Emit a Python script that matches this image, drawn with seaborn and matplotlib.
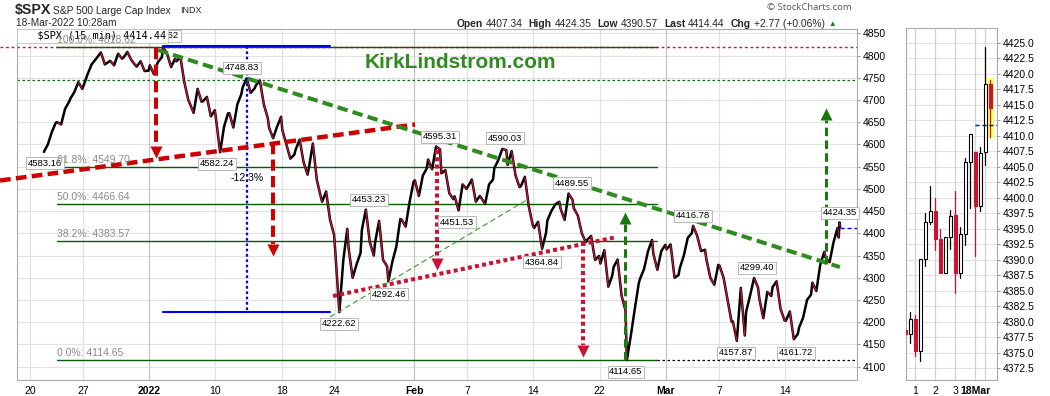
import numpy as np
import pandas as pd
import matplotlib
matplotlib.use("Agg")
import matplotlib.pyplot as plt
import seaborn as sns
from matplotlib.collections import LineCollection
from matplotlib.patches import Rectangle

sns.set_theme(style="white")
plt.rcParams['font.family'] = ['Liberation Sans', 'DejaVu Sans']

# ---------------- data ----------------
# 15-min S&P 500 path: 4 readings per session (Dec 21 .. Mar 17)
sessions = ["Dec 21", "Dec 22", "Dec 23", "Dec 27", "Dec 28", "Dec 29", "Dec 30", "Dec 31",
            "Jan 3", "Jan 4", "Jan 5", "Jan 6", "Jan 7", "Jan 10", "Jan 11", "Jan 12", "Jan 13",
            "Jan 14", "Jan 18", "Jan 19", "Jan 20", "Jan 21", "Jan 24", "Jan 25", "Jan 26",
            "Jan 27", "Jan 28", "Jan 31", "Feb 1", "Feb 2", "Feb 3", "Feb 4", "Feb 7", "Feb 8",
            "Feb 9", "Feb 10", "Feb 11", "Feb 14", "Feb 15", "Feb 16", "Feb 17", "Feb 18",
            "Feb 22", "Feb 23", "Feb 24", "Feb 25", "Feb 28", "Mar 1", "Mar 2", "Mar 3", "Mar 4",
            "Mar 7", "Mar 8", "Mar 9", "Mar 10", "Mar 11", "Mar 14", "Mar 15", "Mar 16", "Mar 17"]
session_prices = [
    [4583.16, 4600, 4628, 4649], [4650, 4645, 4680, 4696], [4703, 4718, 4740, 4725],
    [4733, 4758, 4780, 4791], [4795, 4807, 4780, 4786], [4788, 4778, 4804, 4793],
    [4795, 4808, 4790, 4778], [4775, 4787, 4765, 4766], [4778, 4758, 4785, 4796],
    [4818.62, 4804, 4774, 4793], [4787, 4797, 4740, 4700], [4693, 4671, 4725, 4696],
    [4697, 4707, 4663, 4677], [4655, 4582.24, 4640, 4670], [4670, 4638, 4690, 4713],
    [4728, 4748.83, 4716, 4726], [4733, 4744, 4690, 4659], [4637, 4614, 4640, 4662],
    [4632, 4600, 4568, 4577], [4588, 4611, 4560, 4532], [4547, 4602, 4520, 4482],
    [4471, 4494, 4430, 4397], [4356, 4222.62, 4340, 4410], [4366, 4300, 4330, 4356],
    [4408, 4453.23, 4380, 4350], [4380, 4428, 4340, 4326], [4292.46, 4336, 4370, 4432],
    [4431, 4415, 4470, 4516], [4519, 4484, 4530, 4546], [4566, 4544, 4595.31, 4589],
    [4535, 4542, 4490, 4477], [4483, 4451.53, 4510, 4500], [4505, 4521, 4471, 4484],
    [4480, 4466, 4510, 4521], [4547, 4565, 4590.03, 4587], [4554, 4585, 4530, 4504],
    [4506, 4527, 4460, 4418], [4412, 4426, 4364.84, 4401], [4429, 4450, 4465, 4471],
    [4455, 4430, 4489.55, 4475], [4456, 4440, 4400, 4380], [4385, 4394, 4340, 4349],
    [4332, 4362, 4280, 4305], [4324, 4341, 4260, 4226], [4114.65, 4170, 4230, 4288],
    [4298, 4320, 4360, 4385], [4354, 4318, 4360, 4374], [4364, 4375, 4300, 4306],
    [4322, 4350, 4390, 4400], [4416.78, 4395, 4360, 4363], [4342, 4300, 4284, 4329],
    [4327, 4300, 4250, 4201], [4202, 4157.87, 4277, 4170], [4223, 4260, 4299.40, 4278],
    [4253, 4209, 4268, 4259], [4279, 4292, 4230, 4204], [4203, 4224, 4161.72, 4173],
    [4188, 4210, 4250, 4262], [4289, 4270, 4330, 4358], [4345, 4335, 4380, 4412],
]
last_session = [4407.34, 4390.57, 4424.35, 4414.44]   # Mar 18 up to 10:28am
prev_close = 4411.67

week_ticks = [0, 4, 9, 14, 19, 23, 29, 33, 38, 43, 48, 52, 57]
week_labels = ["20", "27", "2022", "10", "18", "24", "Feb", "7", "14", "22", "Mar", "7", "14"]
month_labels = ["2022", "Feb", "Mar"]

fib_pcts = ["100.0%", "61.8%", "50.0%", "38.2%", "0.0%"]
fib_values = [4818.62, 4549.70, 4466.64, 4383.57, 4114.65]

swing_labels = ["4583.16", "4818.62", "4748.83", "4582.24", "4595.31", "4590.03", "4489.55",
                "4453.23", "4451.53", "4364.84", "4292.46", "4222.62", "4114.65", "4416.78",
                "4299.40", "4157.87", "4161.72", "4424.35"]

# right panel: last 18 fifteen-minute candles
c_open = [4378.6, 4378.0, 4380.5, 4375.2, 4390.1, 4396.0, 4397.8, 4393.3, 4387.8,
          4393.6, 4397.2, 4387.8, 4394.1, 4405.8, 4407.3, 4398.7, 4407.3, 4418.3]
c_high = [4378.7, 4381.5, 4381.1, 4390.1, 4397.5, 4401.8, 4399.9, 4394.9, 4393.7,
          4398.0, 4401.0, 4395.3, 4406.4, 4410.2, 4407.3, 4408.1, 4424.35, 4419.0]
c_low = [4378.0, 4376.6, 4374.4, 4373.6, 4388.9, 4395.7, 4391.6, 4387.8, 4387.8,
         4391.7, 4384.6, 4387.0, 4392.4, 4398.4, 4390.57, 4397.9, 4405.2, 4409.7]
c_close = [4378.0, 4380.5, 4375.2, 4390.1, 4396.0, 4397.9, 4393.3, 4387.8, 4393.7,
           4397.1, 4387.8, 4394.1, 4405.8, 4410.2, 4398.7, 4407.2, 4418.3, 4414.44]
small_ticks = [2, 6, 10, 14]
small_labels = ["1", "2", "3", "18Mar"]

# ---------------- figure ----------------
W, H = 1050, 396
fig = plt.figure(figsize=(W / 100, H / 100), dpi=100)
fig.patch.set_facecolor('white')

def fx(x):
    return x / W

def fy(y):
    return 1 - y / H

ax = fig.add_axes([fx(17), fy(380), fx(857) - fx(17), fy(29) - fy(380)])
axs = fig.add_axes([fx(905.7), fy(380), fx(996.7) - fx(905.7), fy(28.3) - fy(380)])

XL = (-0.98, 62.42)
YL = (4069.9, 4859.7)
ax.set_xlim(*XL)
ax.set_ylim(*YL)
PPU = 351 / (YL[1] - YL[0])  # pixels per index point

RED = '#cc0000'
CRIMSON = '#cc1133'
GREEN = '#2e8b1e'
DKGREEN = '#0b6a0b'
BLUE = '#0000ee'

# grid
for v in np.arange(4100, 4851, 50):
    ax.axhline(v, color='#e2e2e2', lw=0.8, zorder=0)
for t, lab in zip(week_ticks, week_labels):
    ax.axvline(t, color='#c4c4c4' if lab in month_labels else '#e2e2e2', lw=0.9, zorder=0)

# price path
fracs = [0.05, 0.35, 0.65, 0.95]
last_fracs = [0.01, 0.04, 0.10, 0.15]
xs, ps = [], []
for i, vals in enumerate(session_prices):
    for f, v in zip(fracs, vals):
        xs.append(i + 1 + f)
        ps.append(v)
for f, v in zip(last_fracs, last_session):
    xs.append(len(session_prices) + 1 + f)
    ps.append(v)
df = pd.DataFrame({"x": xs, "price": ps})
sns.lineplot(data=df, x="x", y="price", ax=ax, color='black', linewidth=1.8,
             estimator=None, sort=False, zorder=3)
xa, pa = np.array(xs), np.array(ps)
segs = [[(xa[i], pa[i]), (xa[i + 1], pa[i + 1])] for i in range(len(xa) - 1) if pa[i + 1] < pa[i]]
ax.add_collection(LineCollection(segs, colors=CRIMSON, linewidths=0.9, zorder=4))

# fibonacci levels
fib_x0, fib_x1 = 2.04, 47.3
for pct, val in zip(fib_pcts, fib_values):
    ax.plot([fib_x0, fib_x1], [val, val], color='#0a5a0a', lw=1.0, zorder=2)
    ax.annotate(f"{pct}: {val:.2f}", (fib_x0, val), xytext=(0, 1.5), textcoords='offset points',
                ha='left', va='bottom', fontsize=7.5, color='#8a8a8a', zorder=9)
ax.plot([XL[0] - 1.3, XL[1]], [fib_values[0], fib_values[0]], color=CRIMSON, lw=1.0,
        ls=(0, (2, 2)), zorder=1, clip_on=False)
ax.plot([fib_x1, XL[1]], [fib_values[-1], fib_values[-1]], color='black', lw=0.9, ls=(0, (2, 2)), zorder=1)
ax.plot([XL[0], XL[1]], [4745, 4745], color=DKGREEN, lw=0.9, ls=(0, (2, 2)), zorder=1)

# blue measuring lines
ax.plot([10.04, 22.64], [4821, 4821], color=BLUE, lw=1.5, zorder=5)
ax.plot([10.04, 22.64], [4222.62, 4222.62], color=BLUE, lw=1.5, zorder=5)
ax.plot([16.35, 16.35], [4821, 4222.62], color=BLUE, lw=1.6, ls=(0, (1.2, 1.2)), zorder=5)
ax.text(16.35, 4524, "-12.3%", ha='center', va='center', fontsize=7.5, color='black', zorder=9)

# trend lines
ax.plot([-2.26, 29.06], [4518.8, 4644.8], color=RED, lw=3.2, ls=(0, (2.4, 1.2)), zorder=5, clip_on=False)
ax.plot([22.87, 44.3], [4259, 4391.7], color=CRIMSON, lw=2.9, ls=(0, (1, 0.8)), zorder=5)
ax.plot([9.66, 61.13], [4812.4, 4324], color=GREEN, lw=2.9, ls=(0, (2.6, 1.3)), zorder=5)
ax.plot([22.64, 37.5], [4211.7, 4475], color='#3a9a2a', lw=0.8, ls=(0, (5, 3)), zorder=5)
ax.plot([61.15, XL[1]], [prev_close, prev_close], color=BLUE, lw=1.0, ls=(0, (3, 2)), zorder=5)


def varrow(x, y0, y1, color, ls, lw, head_px=12):
    up = y1 > y0
    h = head_px / PPU
    ybase = y1 - h if up else y1 + h
    ax.plot([x, x], [y0, ybase], color=color, ls=ls, lw=lw, zorder=6)
    if up:
        verts = [(0, 0), (-0.5, -1), (0.5, -1), (0, 0)]
    else:
        verts = [(0, 0), (-0.5, 1), (0.5, 1), (0, 0)]
    ax.plot([x], [y1], marker=verts, ms=head_px * 0.72 * 2, color=color, mew=0, zorder=6)


varrow(9.51, 4817, 4569, RED, (0, (2.8, 1.3)), 2.9)
varrow(18.34, 4603, 4349, RED, (0, (2.8, 1.3)), 2.9)
varrow(30.72, 4587, 4318, CRIMSON, (0, (1, 0.8)), 2.9)
varrow(41.74, 4380, 4121, CRIMSON, (0, (1, 0.8)), 2.9)
varrow(44.9, 4114.65, 4449, '#1a7a10', (0, (2.8, 1.4)), 2.2)
varrow(60.05, 4330, 4681, '#1a7a10', (0, (2.8, 1.4)), 2.2)

# swing value labels (box centres)
label_pos = [(1.13, 4558), (9.95, 4844), (16.0, 4772), (14.11, 4556), (30.94, 4617),
             (35.85, 4614), (40.9, 4513), (25.58, 4475), (32.23, 4425), (38.64, 4335),
             (27.09, 4263), (23.32, 4196), (44.98, 4088), (50.04, 4439), (54.87, 4322),
             (53.28, 4131), (57.81, 4131), (61.13, 4446)]
for txt, (lx, ly) in zip(swing_labels, label_pos):
    ax.text(lx, ly, txt, ha='center', va='center', fontsize=6.8, color='black', zorder=8,
            bbox=dict(boxstyle='square,pad=0.18', fc='white', ec='#b8b8b8', lw=0.7))

# legend box inside chart
ax.text(fx(19), fy(36), "   $SPX (15 min) 4414.44", transform=fig.transFigure, ha='left', va='center',
        fontsize=7.4, family='DejaVu Sans Mono', color='black', zorder=8.5,
        bbox=dict(boxstyle='square,pad=0.22', fc='white', ec='#c8c8c8', lw=0.7))

ax.text(fx(460), fy(62), "KirkLindstrom.com", transform=fig.transFigure, ha='center', va='center',
        fontsize=15, fontweight='bold', color=GREEN, zorder=9)

# axes styling main
ax.yaxis.tick_right()
ax.set_yticks(np.arange(4100, 4851, 50))
ax.set_yticklabels([str(v) for v in range(4100, 4851, 50)], fontsize=7.5)
ax.set_xticks(week_ticks)
ax.set_xticklabels(week_labels, fontsize=7.5)
for tl in ax.get_xticklabels():
    if tl.get_text() in month_labels:
        tl.set_fontweight('bold')
ax.tick_params(axis='both', length=2, width=0.6, colors='#888888', labelcolor='black', pad=2)
ax.set_xlabel("")
ax.set_ylabel("")
for s in ax.spines.values():
    s.set_color('#aaaaaa')
    s.set_linewidth(0.8)

# ---------------- right candle panel ----------------
axs.set_xlim(0.073, 18.27)
axs.set_ylim(4370.6, 4427.3)
for v in np.arange(4372.5, 4426, 2.5):
    axs.axhline(v, color='#e2e2e2', lw=0.8, zorder=0)
for t in small_ticks + [16]:
    axs.axvline(t, color='#d0d0d0', lw=0.9, zorder=0)
axs.add_patch(Rectangle((16.4, 4409.6), 1.4, 9.7, fc='#ffff66', ec='none', zorder=1))
for i, (o, h, l, c) in enumerate(zip(c_open, c_high, c_low, c_close)):
    up = c >= o
    col = 'black' if up else CRIMSON
    axs.plot([i, i], [l, h], color=col, lw=0.9, zorder=2)
    axs.add_patch(Rectangle((i - 0.32, min(o, c)), 0.64, max(abs(c - o), 0.15),
                            fc='white' if up else CRIMSON, ec=col, lw=0.8, zorder=3))
axs.plot([13.9, 18.27], [prev_close, prev_close], color=BLUE, lw=1.0, ls=(0, (3, 2)), zorder=4)
axs.yaxis.tick_right()
yt = np.arange(4372.5, 4426, 2.5)
axs.set_yticks(yt)
axs.set_yticklabels([f"{v:.1f}" for v in yt], fontsize=7.5)
axs.set_xticks(small_ticks)
axs.set_xticklabels(small_labels, fontsize=7.5)
axs.get_xticklabels()[-1].set_fontweight('bold')
axs.tick_params(axis='both', length=2, width=0.6, colors='#888888', labelcolor='black', pad=2)
for s in axs.spines.values():
    s.set_color('#aaaaaa')
    s.set_linewidth(0.8)

# ---------------- header ----------------
fig.text(fx(15), fy(10), "$SPX", fontsize=10.2, fontweight='bold', ha='left', va='center')
fig.text(fx(53), fy(10.5), "S&P 500 Large Cap Index", fontsize=7.3, ha='left', va='center')
fig.text(fx(180), fy(10.5), "INDX", fontsize=6.5, ha='left', va='center')
fig.text(fx(16), fy(23.5), "18-Mar-2022 10:28am", fontsize=7.3, ha='left', va='center')
fig.text(fx(852), fy(7), "\u00a9 StockCharts.com", fontsize=6.8, color='#555555', ha='right', va='center',
         family=['Open Sans', 'DejaVu Sans'])

renderer = fig.canvas.get_renderer()
hdr = [("Open", True), ("4407.34", False), ("High", True), ("4424.35", False),
       ("Low", True), ("4390.57", False), ("Last", True), ("4414.44", False),
       ("Chg", True), ("+2.77 (+0.06%)", False)]
cur = 456.5
for j, (t, b) in enumerate(hdr):
    tx = fig.text(fx(cur), fy(24), t, fontsize=7.4, fontweight='bold' if b else 'normal',
                  ha='left', va='center')
    wpx = tx.get_window_extent(renderer=renderer).width
    cur += wpx + (3 if b else 6)
fig.text(fx(cur - 2), fy(24), "\u25b2", fontsize=5.5, color='#1a7a10', ha='left', va='center')

fig.savefig("out.png", dpi=100, facecolor='white')
